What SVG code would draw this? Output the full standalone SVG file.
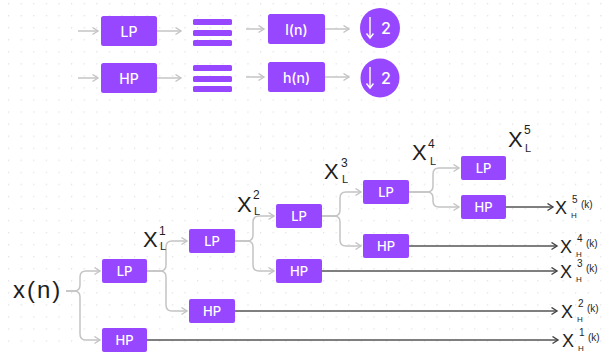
<svg xmlns="http://www.w3.org/2000/svg" width="603" height="352" viewBox="0 0 603 352">
<style>
.box{fill:#9747FF;}
.bt{fill:#fff;font-family:Inter,"Liberation Sans",sans-serif;font-weight:500;text-anchor:middle;dominant-baseline:central;}
.lc{fill:none;stroke:#c4c4c4;stroke-width:1.5;marker-end:url(#ah-l);}
.dc{fill:none;stroke:#555;stroke-width:1.4;marker-end:url(#ah-d);}
.hw{fill:#1e1e1e;font-family:"Liberation Sans","DejaVu Sans",sans-serif;}
</style>
<defs>
<pattern id="dots" x="8" y="3" width="12.6" height="12.05" patternUnits="userSpaceOnUse">
<circle cx="0.6" cy="0.6" r="0.75" fill="#e2e2e2"/>
</pattern>
<marker id="ah-l" markerUnits="userSpaceOnUse" markerWidth="10" markerHeight="10" refX="6" refY="4" orient="auto">
<path d="M0.5,0.5 L6,4 L0.5,7.5" fill="none" stroke="#c4c4c4" stroke-width="1.4"/>
</marker>
<marker id="ah-d" markerUnits="userSpaceOnUse" markerWidth="10" markerHeight="10" refX="6" refY="4" orient="auto">
<path d="M0.5,0.5 L6,4 L0.5,7.5" fill="none" stroke="#444" stroke-width="1.4"/>
</marker>
<marker id="ah-w" markerUnits="userSpaceOnUse" markerWidth="10" markerHeight="10" refX="5" refY="4" orient="auto">
<path d="M0.5,0.5 L5,4 L0.5,7.5" fill="none" stroke="#fff" stroke-width="1.4"/>
</marker>
</defs>
<rect width="603" height="352" fill="#fff"/>
<rect width="603" height="352" fill="url(#dots)"/>

<g id="connectors">
<path class="lc" d="M78 31 H98"/>
<path class="lc" d="M157 31 H181"/>
<path class="lc" d="M246 29 H264"/>
<path class="lc" d="M325 29 H349"/>
<path class="lc" d="M78 78 H98"/>
<path class="lc" d="M157 78 H181"/>
<path class="lc" d="M246 77 H264"/>
<path class="lc" d="M325 77 H349"/>

<path class="lc" d="M66 291 H74 Q80 291 80 285 V277 Q80 271 86 271 H100"/>
<path class="lc" d="M66 291 H74 Q80 291 80 297 V334 Q80 340 86 340 H100"/>
<path class="lc" d="M147 271 H160 Q166 271 166 265 V247 Q166 241 172 241 H187"/>
<path class="lc" d="M147 271 H160 Q166 271 166 277 V305 Q166 311 172 311 H187"/>
<path class="lc" d="M235 241 H247 Q253 241 253 235 V222 Q253 216 259 216 H274"/>
<path class="lc" d="M235 241 H247 Q253 241 253 247 V265 Q253 271 259 271 H274"/>
<path class="lc" d="M322 216 H334 Q340 216 340 210 V198 Q340 192 346 192 H361"/>
<path class="lc" d="M322 216 H334 Q340 216 340 222 V240 Q340 246 346 246 H361"/>
<path class="lc" d="M409 192 H427 Q433 192 433 186 V174 Q433 168 439 168 H459"/>
<path class="lc" d="M409 192 H427 Q433 192 433 198 V201 Q433 207 439 207 H459"/>

<path class="dc" d="M506 207 H553"/>
<path class="dc" d="M409 246 H557"/>
<path class="dc" d="M322 271 H557"/>
<path class="dc" d="M235 311 H557"/>
<path class="dc" d="M147 340 H558"/>
</g>

<g id="top-lp"><rect class="box" x="101" y="16" width="56" height="30" rx="2.5"/><text class="bt" x="129" y="31" font-size="14">LP</text></g>
<g id="top-hp"><rect class="box" x="101" y="63" width="56" height="30" rx="2.5"/><text class="bt" x="129" y="78" font-size="14">HP</text></g>
<g id="top-eq1"><rect class="box" x="193" y="19" width="39" height="6" rx="1.5"/><rect class="box" x="193" y="30" width="39" height="6" rx="1.5"/><rect class="box" x="193" y="40" width="39" height="6" rx="1.5"/></g>
<g id="top-eq2"><rect class="box" x="193" y="65" width="39" height="6" rx="1.5"/><rect class="box" x="193" y="76" width="39" height="6" rx="1.5"/><rect class="box" x="193" y="86" width="39" height="6" rx="1.5"/></g>
<g id="top-ln"><rect class="box" x="268" y="14" width="57" height="30" rx="2.5"/><text class="bt" x="296.5" y="29" font-size="14">l(n)</text></g>
<g id="top-hn"><rect class="box" x="268" y="62" width="57" height="30" rx="2.5"/><text class="bt" x="296.5" y="77" font-size="14">h(n)</text></g>
<g id="top-ds1"><circle class="box" cx="380" cy="28" r="20"/><path d="M370 17 V38" stroke="#fff" stroke-width="1.4" fill="none" marker-end="url(#ah-w)"/><text class="bt" x="386" y="28" font-size="16">2</text></g>
<g id="top-ds2"><circle class="box" cx="380" cy="78" r="19.5"/><path d="M370 67 V88" stroke="#fff" stroke-width="1.4" fill="none" marker-end="url(#ah-w)"/><text class="bt" x="386" y="78" font-size="16">2</text></g>

<g id="xn"><text class="hw" x="13" y="298" font-size="24" letter-spacing="2">x(n)</text></g>

<g id="lp1"><rect class="box" x="102" y="259" width="45" height="24" rx="2"/><text class="bt" x="124.5" y="271" font-size="13">LP</text></g>
<g id="hp1"><rect class="box" x="102" y="328" width="45" height="24" rx="2"/><text class="bt" x="124.5" y="340" font-size="13">HP</text></g>
<g id="lp2"><rect class="box" x="189" y="229" width="46" height="24" rx="2"/><text class="bt" x="212" y="241" font-size="13">LP</text></g>
<g id="hp2"><rect class="box" x="189" y="299" width="46" height="24" rx="2"/><text class="bt" x="212" y="311" font-size="13">HP</text></g>
<g id="lp3"><rect class="box" x="276" y="204" width="46" height="24" rx="2"/><text class="bt" x="299" y="216" font-size="13">LP</text></g>
<g id="hp3"><rect class="box" x="276" y="259" width="46" height="24" rx="2"/><text class="bt" x="299" y="271" font-size="13">HP</text></g>
<g id="lp4"><rect class="box" x="363" y="180" width="46" height="24" rx="2"/><text class="bt" x="386" y="192" font-size="13">LP</text></g>
<g id="hp4"><rect class="box" x="363" y="234" width="46" height="24" rx="2"/><text class="bt" x="386" y="246" font-size="13">HP</text></g>
<g id="lp5"><rect class="box" x="461" y="156" width="45" height="24" rx="2"/><text class="bt" x="483.5" y="168" font-size="13">LP</text></g>
<g id="hp5"><rect class="box" x="461" y="195" width="45" height="24" rx="2"/><text class="bt" x="483.5" y="207" font-size="13">HP</text></g>

<g id="xl1" class="hw"><text x="143" y="247" font-size="22">X</text><text x="159" y="235" font-size="12">1</text><text x="160" y="250" font-size="11">L</text></g>
<g id="xl2" class="hw"><text x="237" y="212" font-size="22">X</text><text x="253" y="199" font-size="12">2</text><text x="254" y="215" font-size="11">L</text></g>
<g id="xl3" class="hw"><text x="324" y="179" font-size="22">X</text><text x="341" y="167" font-size="12">3</text><text x="342" y="183" font-size="11">L</text></g>
<g id="xl4" class="hw"><text x="412" y="160" font-size="22">X</text><text x="428" y="148" font-size="12">4</text><text x="430" y="165" font-size="11">L</text></g>
<g id="xl5" class="hw"><text x="508" y="147" font-size="22">X</text><text x="524" y="134" font-size="12">5</text><text x="525" y="152" font-size="11">L</text></g>

<g id="xh5" class="hw"><text x="555" y="214" font-size="18">X</text><text x="572" y="203" font-size="10">5</text><text x="571" y="218" font-size="8">H</text><text x="581" y="208" font-size="10">(k)</text></g>
<g id="xh4" class="hw"><text x="560" y="253" font-size="18">X</text><text x="577" y="242" font-size="10">4</text><text x="576" y="257" font-size="8">H</text><text x="586" y="247" font-size="10">(k)</text></g>
<g id="xh3" class="hw"><text x="560" y="278" font-size="18">X</text><text x="577" y="267" font-size="10">3</text><text x="576" y="282" font-size="8">H</text><text x="586" y="272" font-size="10">(k)</text></g>
<g id="xh2" class="hw"><text x="561" y="318" font-size="18">X</text><text x="578" y="307" font-size="10">2</text><text x="577" y="322" font-size="8">H</text><text x="587" y="312" font-size="10">(k)</text></g>
<g id="xh1" class="hw"><text x="562" y="347" font-size="18">X</text><text x="579" y="336" font-size="10">1</text><text x="578" y="351" font-size="8">H</text><text x="588" y="341" font-size="10">(k)</text></g>
</svg>
